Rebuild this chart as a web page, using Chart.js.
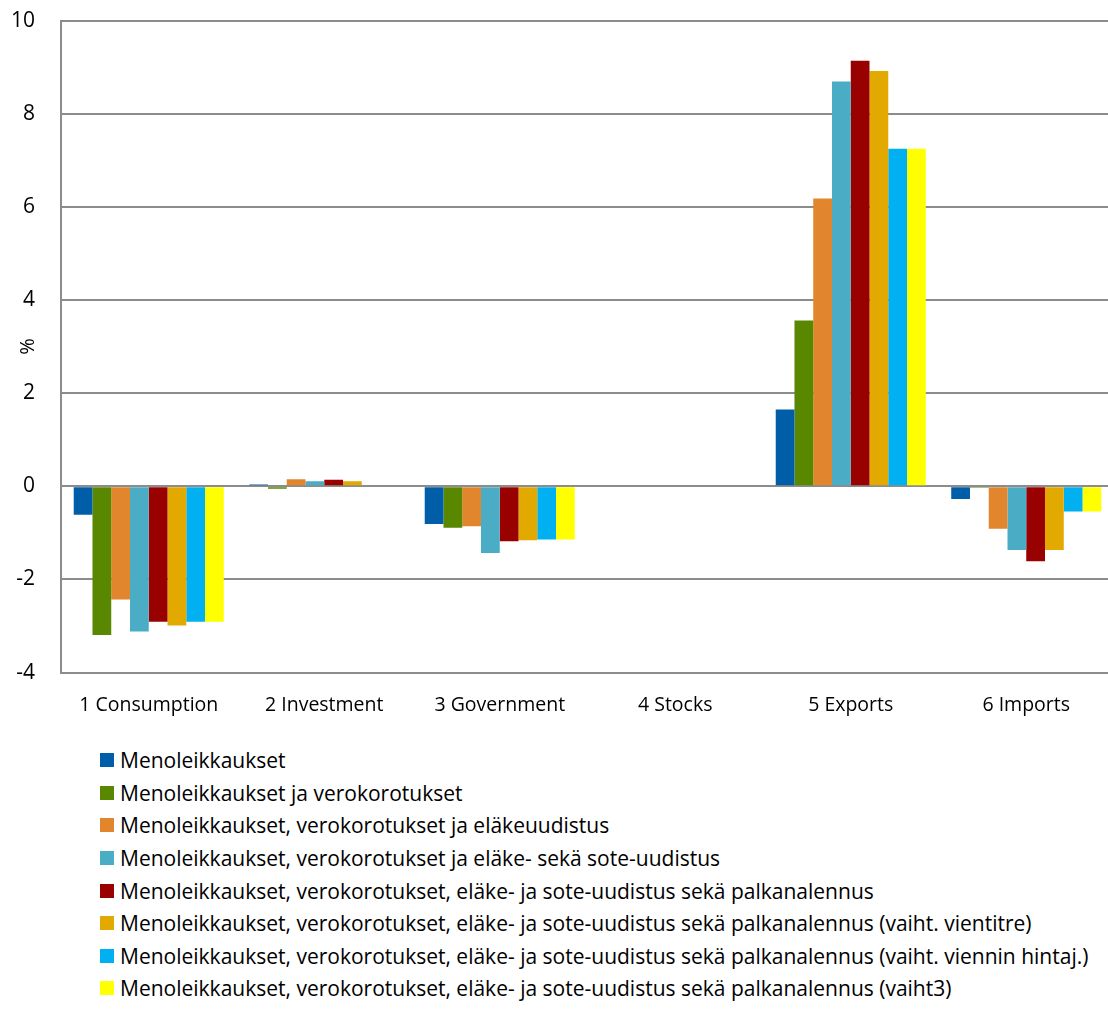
<!DOCTYPE html>
<html>
<head>
<meta charset="utf-8">
<script src="https://cdn.jsdelivr.net/npm/chart.js@4/dist/chart.umd.min.js"></script>
<style>
  html, body { margin: 0; padding: 0; background: #fff; overflow: hidden; }
  #wrap { position: relative; width: 1114px; height: 756px; margin-top: -18px; }
  #legend { margin: 6px 0 0 100px; font-family: 'Open Sans', Lato, sans-serif; font-size: 21px; color: #000; }
  .li { display: flex; align-items: center; height: 32.6px; white-space: nowrap; }
  .sw { width: 14px; height: 14px; margin-right: 6px; flex: none; }
</style>
</head>
<body>
<div id="wrap"><canvas id="c"></canvas></div>
<div id="legend"></div>
<script>
// categories and series (percent deviation from baseline)
const categories = ['1 Consumption', '2 Investment', '3 Government', '4 Stocks', '5 Exports', '6 Imports'];
const seriesNames = [
  'Menoleikkaukset',
  'Menoleikkaukset ja verokorotukset',
  'Menoleikkaukset, verokorotukset ja eläkeuudistus',
  'Menoleikkaukset, verokorotukset ja eläke- sekä sote-uudistus',
  'Menoleikkaukset, verokorotukset, eläke- ja sote-uudistus sekä palkanalennus',
  'Menoleikkaukset, verokorotukset, eläke- ja sote-uudistus sekä palkanalennus (vaiht. vientitre)',
  'Menoleikkaukset, verokorotukset, eläke- ja sote-uudistus sekä palkanalennus (vaiht. viennin hintaj.)',
  'Menoleikkaukset, verokorotukset, eläke- ja sote-uudistus sekä palkanalennus (vaiht3)'
];
const colors = ['#005EA8', '#5A8700', '#E2862E', '#4BACC6', '#990000', '#E2A900', '#00B0F0', '#FFFF00'];

const s1 = [-0.61, 0.04, -0.81, 0, 1.65, -0.27];
const s2 = [-3.19, -0.05, -0.89, 0, 3.56, -0.03];
const s3 = [-2.43, 0.15, -0.86, 0, 6.18, -0.91];
const s4 = [-3.12, 0.11, -1.43, 0, 8.69, -1.37];
const s5 = [-2.91, 0.14, -1.18, 0, 9.14, -1.61];
const s6 = [-2.99, 0.11, -1.16, 0, 8.92, -1.37];
const s7 = [-2.91, 0, -1.14, 0, 7.25, -0.54];
const s8 = [-2.91, 0, -1.14, 0, 7.25, -0.54];
const seriesValues = [s1, s2, s3, s4, s5, s6, s7, s8];

const yMin = -4, yMax = 10, yStep = 2;
const FONT = '"Open Sans", Lato, sans-serif';

const chart = new Chart(document.getElementById('c'), {
  type: 'bar',
  data: {
    labels: categories,
    datasets: seriesNames.map((name, i) => ({
      label: name,
      data: seriesValues[i],
      backgroundColor: colors[i],
      borderWidth: 0,
      categoryPercentage: 0.855,
      barPercentage: 1.0
    }))
  },
  options: {
    responsive: true,
    maintainAspectRatio: false,
    animation: false,
    layout: { padding: { top: 7, right: 0, bottom: 0, left: 0 } },
    plugins: { legend: { display: false }, tooltip: { enabled: false } },
    scales: {
      x: {
        grid: { display: false, drawTicks: false },
        border: { display: false },
        ticks: { color: '#000', font: { family: FONT, size: 19.5 }, padding: 21, maxRotation: 0 }
      },
      y: {
        min: yMin, max: yMax,
        afterFit: s => { s.width = 61; },
        grid: { color: '#8c8c8c', lineWidth: 2, drawTicks: false },
        border: { display: true, color: '#8c8c8c', width: 2 },
        ticks: { stepSize: yStep, color: '#000', font: { family: FONT, size: 21 }, padding: 26 },
        title: { display: true, text: '%', color: '#000', font: { family: FONT, size: 20 }, padding: { top: 16, bottom: 0 } }
      }
    }
  }
});

document.getElementById('legend').innerHTML = chart.data.datasets.map(d =>
  `<div class="li"><span class="sw" style="background:${d.backgroundColor}"></span>${d.label}</div>`
).join('');
</script>
</body>
</html>
